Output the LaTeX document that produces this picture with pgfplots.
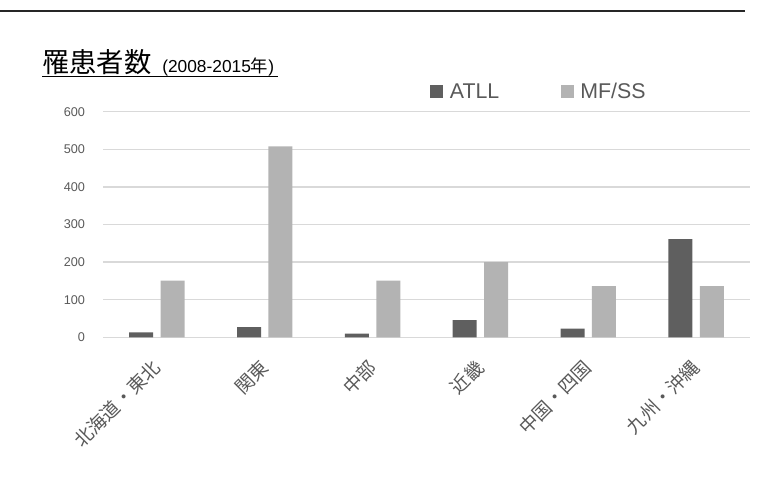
\documentclass[border=0pt]{standalone}
\usepackage{pgfplots}
\pgfplotsset{compat=1.18}
\usepackage{fontspec}
\setmainfont{Liberation Sans}
\newfontfamily\cjk{Noto Sans CJK JP}
\definecolor{atll}{HTML}{5F5F5F}
\definecolor{mfss}{HTML}{B3B3B3}
\definecolor{txt}{HTML}{595959}
\definecolor{grd}{HTML}{D9D9D9}

\begin{document}
\begin{tikzpicture}
\useasboundingbox (0pt,0pt) rectangle (571.5pt,357pt);
% rule at the top of the slide
\draw[line width=1.1pt, black!85] (0pt,348.75pt) -- (558.75pt,348.75pt);
% title
\node[anchor=base west, inner sep=0pt, font=\cjk\fontsize{20.5}{21}\selectfont] at (31.5pt,303pt) {罹患者数};
\node[anchor=base west, inner sep=0pt, font=\fontsize{13}{13}\selectfont] at (121.5pt,303pt) {(2008-2015{\cjk 年})};
\draw[line width=0.6pt] (31.5pt,299.5pt) -- (208.5pt,299.5pt);

\begin{axis}[
  at={(77.25pt,104pt)}, anchor=south west,
  scale only axis, width=485.25pt, height=169.2pt,
  xmin=-0.5, xmax=5.5, ymin=0, ymax=600,
  ybar=5.6pt, bar width=18pt,
  axis line style={draw=none},
  major tick length=0pt,
  ymajorgrids, grid style={grd, line width=1.1pt},
  ytick={0,100,...,600},
  xtick={0,...,5},
  xticklabels={北海道・東北,関東,中部,近畿,中国・四国,九州・沖縄},
  /pgf/number format/assume math mode=true,
  yticklabel style={font=\fontsize{9.5}{9.5}\selectfont, text=txt, xshift=-10pt},
  xticklabel shift=20pt,
  xticklabel style={rotate=45, anchor=east, inner sep=0pt,
    font=\cjk\fontsize{14}{14}\selectfont, text=txt},
  legend style={at={(0.5054,1.0875)}, anchor=west, draw=none, fill=none,
    legend columns=2, font=\fontsize{16}{16}\selectfont, text=txt,
    inner sep=0pt,
    /tikz/every even column/.append style={column sep=44pt}},
  legend image code/.code={\fill[#1] (0pt,-4.4pt) rectangle (9.75pt,5.4pt); \path (12.75pt,0pt);},
]
\addplot[fill=atll, draw=none] coordinates {(0,13) (1,27) (2,10) (3,46) (4,23) (5,261)};
\addplot[fill=mfss, draw=none] coordinates {(0,151) (1,508) (2,151) (3,200) (4,136) (5,136)};
\legend{ATLL,MF/SS}
\end{axis}
\end{tikzpicture}
\end{document}
